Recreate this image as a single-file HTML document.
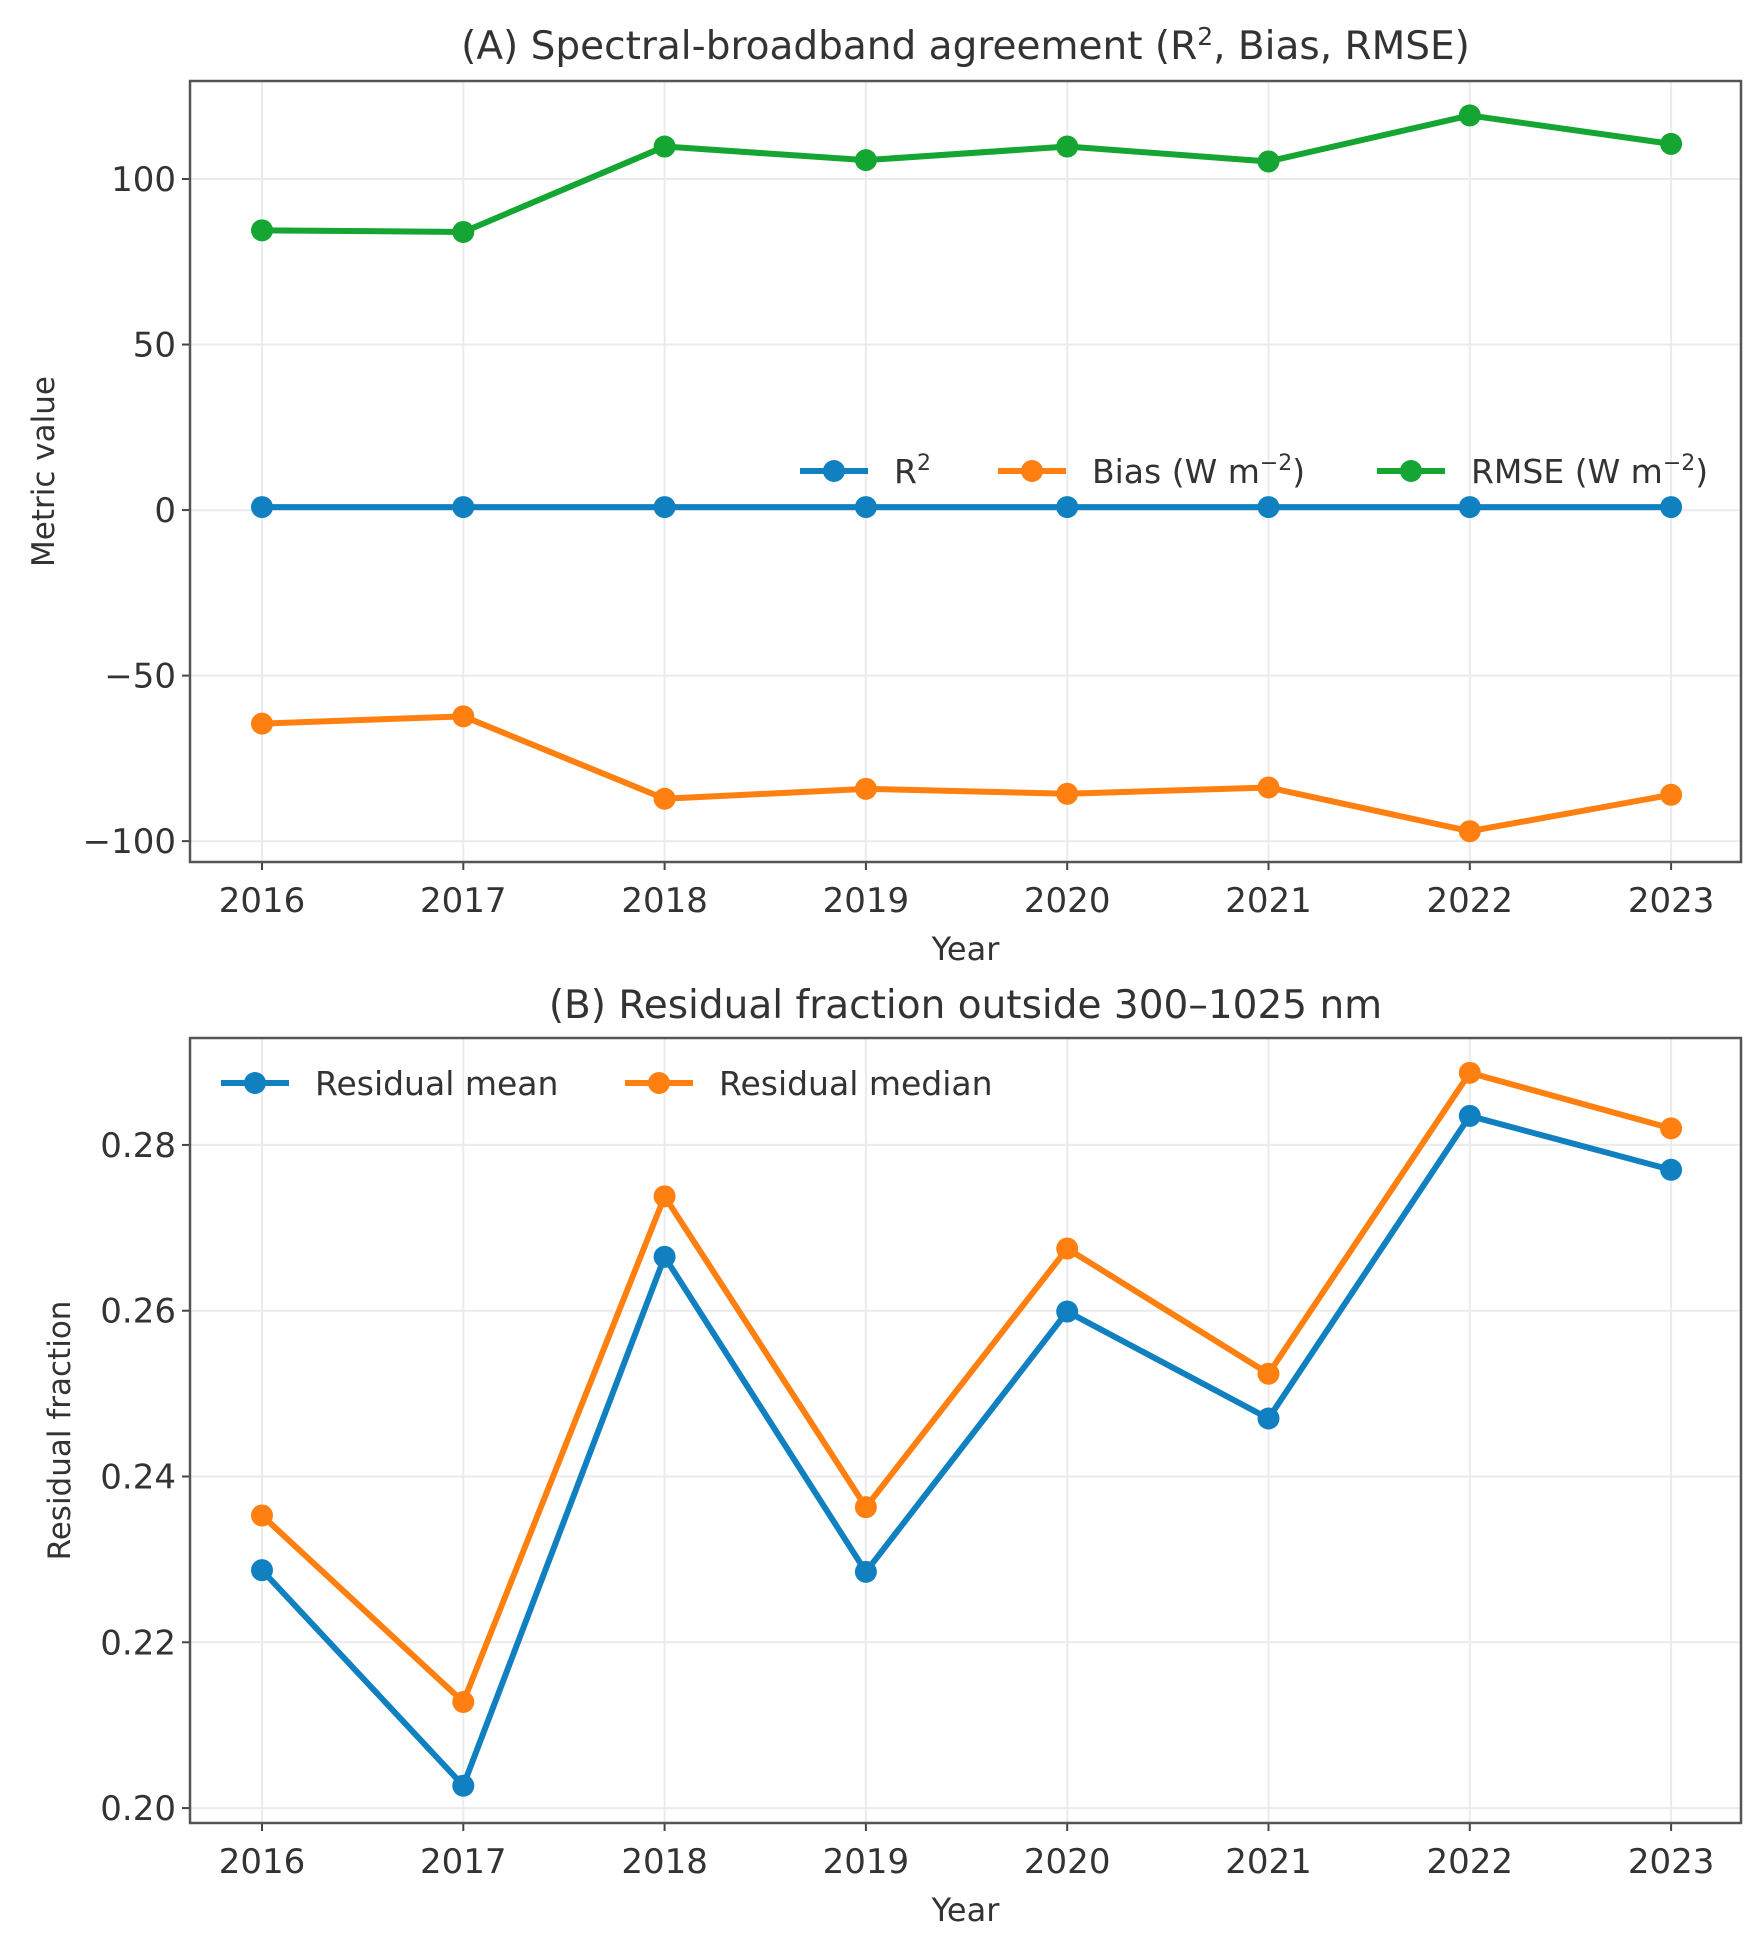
<!DOCTYPE html>
<html><head><meta charset="utf-8"><style>
html,body{margin:0;padding:0;background:#fff;}
svg{display:block;font-family:"DejaVu Sans","Liberation Sans",sans-serif;}
</style></head><body>
<svg id="chart" width="1762" height="1940" viewBox="0 0 1762 1940"></svg>
<script>
const years = [2016,2017,2018,2019,2020,2021,2022,2023];
const r2Values = [0.9,0.9,0.9,0.9,0.9,0.9,0.9,0.9];
const biasValues = [-64.5,-62.3,-87.2,-84.2,-85.7,-83.8,-97,-86];
const rmseValues = [84.5,84,109.8,105.7,109.8,105.3,119.2,110.6];
const ticksA = [100,50,0,-50,-100];
const tickLabelsA = ["100","50","0","\u221250","\u2212100"];
const residualMean = [0.2287,0.2027,0.2665,0.2285,0.2599,0.2470,0.2835,0.2770];
const residualMedian = [0.2353,0.2128,0.2738,0.2363,0.2675,0.2524,0.2887,0.2820];
const ticksB = [0.20,0.22,0.24,0.26,0.28];
const tickLabelsB = ["0.20","0.22","0.24","0.26","0.28"];

const NS="http://www.w3.org/2000/svg";
const svg=document.getElementById('chart');
function mk(tag,attrs,parent,text){const e=document.createElementNS(NS,tag);for(const k in attrs)e.setAttribute(k,attrs[k]);if(text!==undefined)e.textContent=text;(parent||svg).appendChild(e);return e;}
const BLUE="#1180c0",ORANGE="#ff8010",GREEN="#14a532";
const L=190,R=1741;
function xScale(i){return 262+i*201.3;}

function panel(cfg){
  const g=mk('g',{});
  
  
  const y=v=>cfg.top+(cfg.dmax-v)/(cfg.dmax-cfg.dmin)*(cfg.bottom-cfg.top);
  years.forEach((yr,i)=>{const l=mk('line',{x1:xScale(i),x2:xScale(i),y1:cfg.top,y2:cfg.bottom,stroke:"#ebebeb","stroke-width":2},g);
    });
  cfg.ticks.forEach(t=>{const l=mk('line',{x1:L,x2:R,y1:y(t),y2:y(t),stroke:"#ebebeb","stroke-width":2},g);
    });
  years.forEach((yr,i)=>{mk('line',{x1:xScale(i),x2:xScale(i),y1:cfg.bottom,y2:cfg.bottom+8,stroke:"#444","stroke-width":2},g);
    const t=mk('text',{x:xScale(i),y:cfg.bottom+50,"text-anchor":"middle","font-size":34,fill:"#333"},g,String(yr));
    });
  cfg.ticks.forEach((tv,k)=>{mk('line',{x1:L-8,x2:L,y1:y(tv),y2:y(tv),stroke:"#444","stroke-width":2},g);
    const t=mk('text',{x:L-14,y:y(tv)+12,"text-anchor":"end","font-size":34,fill:"#333"},g,cfg.labels[k]);
    });
  cfg.series.forEach(s=>{
    const sg=mk('g',{},g);
    
    const pts=s.vals.map((v,i)=>xScale(i)+","+y(v)).join(" ");
    mk('polyline',{points:pts,fill:"none",stroke:s.color,"stroke-width":6,"stroke-linejoin":"round"},sg);
    s.vals.forEach((v,i)=>{const c=mk('circle',{cx:xScale(i),cy:y(v),r:11,fill:s.color},sg);
      });
  });
  const f=mk('rect',{x:L,y:cfg.top,width:R-L,height:cfg.bottom-cfg.top,fill:"none",stroke:"#555","stroke-width":2.5},g);
  
  const tt=mk('text',{x:(L+R)/2,y:cfg.titleY,"text-anchor":"middle","font-size":39,fill:"#333"},g);
  tt.innerHTML=cfg.title;
  
  const xl=mk('text',{x:(L+R)/2,y:cfg.bottom+98,"text-anchor":"middle","font-size":32,fill:"#333"},g,"Year");
  
  const yl=mk('text',{x:0,y:0,"text-anchor":"middle","font-size":31,fill:"#333",transform:`translate(${cfg.ylx},${(cfg.top+cfg.bottom)/2}) rotate(-90)`},g,cfg.ylabel);
  
  cfg.legend.forEach(e=>{
    const lg=mk('g',{},g);
    
    mk('line',{x1:e.x,x2:e.x+68,y1:e.y,y2:e.y,stroke:e.color,"stroke-width":6},lg);
    mk('circle',{cx:e.x+34,cy:e.y,r:11,fill:e.color},lg);
    const t=mk('text',{x:e.x+94,y:e.y+12,"font-size":33,fill:"#333"},lg);t.innerHTML=e.label;
  });
}

panel({name:'panel-a',top:81,bottom:862,dmax:129.6,dmin:-106.3,ticks:ticksA,labels:tickLabelsA,titleY:59,
  title:'(A) Spectral-broadband agreement (R<tspan dy="-14" font-size="25">2</tspan><tspan dy="14">, Bias, RMSE)</tspan>',
  ylabel:'Metric value',ylx:54,
  series:[{name:'r2-series',vals:r2Values,color:BLUE},{name:'bias-series',vals:biasValues,color:ORANGE},{name:'rmse-series',vals:rmseValues,color:GREEN}],
  legend:[{x:800,y:471,color:BLUE,label:'R<tspan dy="-13" font-size="22">2</tspan>'},
    {x:998,y:471,color:ORANGE,label:'Bias (W m<tspan dy="-13" font-size="22">\u22122</tspan><tspan dy="13">)</tspan>'},
    {x:1377,y:471,color:GREEN,label:'RMSE (W m<tspan dy="-13" font-size="22">\u22122</tspan><tspan dy="13">)</tspan>'}]});

panel({name:'panel-b',top:1038,bottom:1823,dmax:0.2929,dmin:0.1982,ticks:ticksB,labels:tickLabelsB,titleY:1018,
  title:'(B) Residual fraction outside 300\u20131025 nm',ylabel:'Residual fraction',ylx:70,
  series:[{name:'residual-mean-series',vals:residualMean,color:BLUE},{name:'residual-median-series',vals:residualMedian,color:ORANGE}],
  legend:[{x:221,y:1083,color:BLUE,label:'Residual mean'},{x:625,y:1083,color:ORANGE,label:'Residual median'}]});
</script>
</body></html>
